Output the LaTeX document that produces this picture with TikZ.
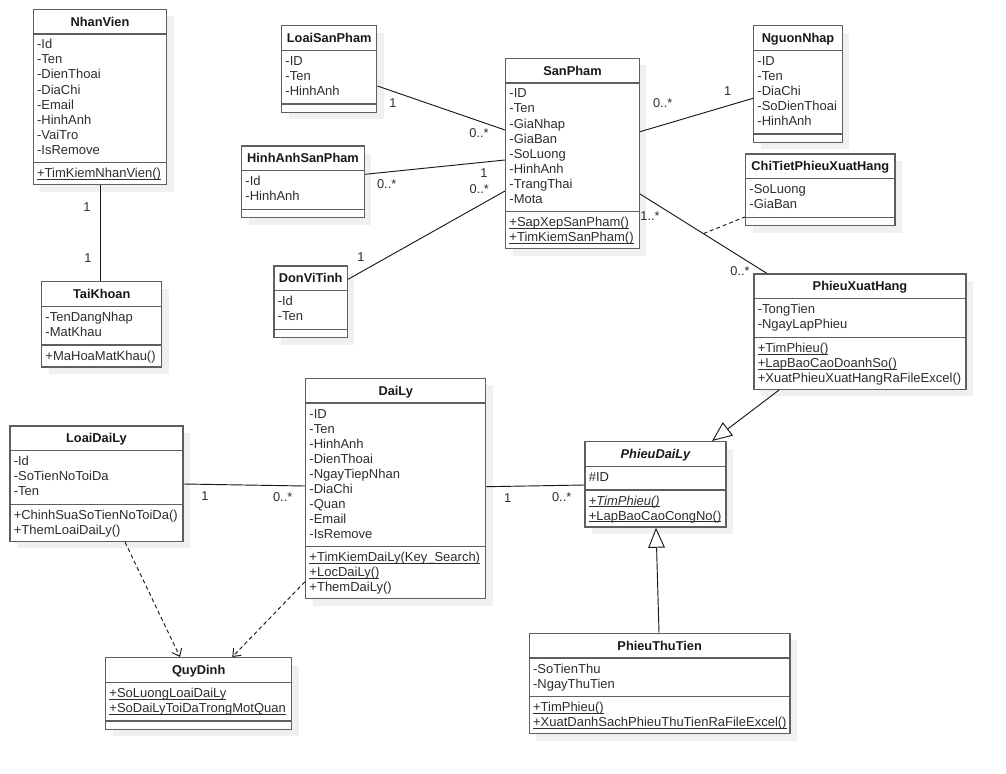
\documentclass[tikz,border=0pt]{standalone}
\usepackage{fontspec}
\setmainfont{Liberation Sans}
\usetikzlibrary{fit,arrows.meta}

\definecolor{framegray}{RGB}{95,95,95}
\definecolor{membertext}{RGB}{45,45,45}

% underline placed just under the baseline
\newcommand\ulmember[1]{\setbox0\hbox{#1}\rlap{\rule[-1.7pt]{\wd0}{0.6pt}}\box0}

\tikzset{
  classframe/.style={draw=framegray, line width=1.1pt, fill=white, inner sep=0pt},
  seprule/.style={draw=framegray, line width=1.1pt},
  boxshadow/.style={fill=black!6},
  classtitle/.style={anchor=base, inner sep=0pt, font=\fontsize{9.6}{11}\selectfont\bfseries, text=black!90},
  member/.style={anchor=base west, inner sep=0pt, font=\fontsize{9.75}{11}\selectfont, text=membertext},
  mult/.style={inner sep=0pt, font=\fontsize{9.6}{11}\selectfont, text=membertext},
  assoc/.style={draw=black!90, line width=0.7pt},
  assocdash/.style={assoc, dash pattern=on 3pt off 2.2pt},
  depend/.style={assoc, dash pattern=on 3pt off 2.2pt, -{Straight Barb[length=5pt,width=8pt]}},
  inherit/.style={assoc, -{Triangle[open, length=15pt, width=12.5pt, fill=white]}},
}

% #1 name, #2 left, #3 top, #4 right, #5 attribute count, #6 method count,
% #7 title, #8 attributes, #9 methods
\newcommand\umlclass[9]{%
  \pgfmathsetmacro\sepA{#3+24.7}%
  \pgfmathsetmacro\sepB{\sepA+15*#5+8.6}%
  \pgfmathsetmacro\boxB{\sepB+(#6==0)*8.4+(#6>0)*(15*#6+7)}%
  \fill[boxshadow] (#2+7,#3+7) rectangle (#4+7,\boxB+7);
  \node[classframe, fit={(#2,#3) (#4,\boxB)}] (#1) {};
  \draw[seprule] (#2,\sepA) -- (#4,\sepA) (#2,\sepB) -- (#4,\sepB);
  \node[classtitle] (#1-title) at ({(#2+#4)/2},{(#3+\sepA)/2+4.5}) {#7};
  \foreach \txt [count=\i] in {#8}
    \node[member] (#1-a\i) at (#2+3.5,\sepA+15*\i) {\txt};
  \ifnum#6>0
    \foreach \txt [count=\i] in {#9}
      \node[member] (#1-m\i) at (#2+3.5,\sepB+15*\i) {\txt};
  \fi
}

\begin{document}
\begin{tikzpicture}[x=0.75pt,y=-0.75pt]
\useasboundingbox (0,0) rectangle (1006,774);
\fill[white] (0,0) rectangle (1006,774);

% classes
\umlclass{NhanVien}{33.3}{9.3}{166.7}{8}{1}{NhanVien}
  {-Id,-Ten,-DienThoai,-DiaChi,-Email,-HinhAnh,-VaiTro,-IsRemove}
  {\ulmember{+TimKiemNhanVien()}}
\umlclass{TaiKhoan}{41.7}{281.7}{161.7}{2}{1}{TaiKhoan}
  {-TenDangNhap,-MatKhau}{+MaHoaMatKhau()}
\umlclass{LoaiSanPham}{281.7}{25.7}{376.7}{3}{0}{LoaiSanPham}
  {-ID,-Ten,-HinhAnh}{}
\umlclass{SanPham}{505.7}{58.3}{639.3}{8}{2}{SanPham}
  {-ID,-Ten,-GiaNhap,-GiaBan,-SoLuong,-HinhAnh,-TrangThai,-Mota}
  {\ulmember{+SapXepSanPham()},\ulmember{+TimKiemSanPham()}}
\umlclass{HinhAnhSanPham}{241.7}{146}{364.3}{2}{0}{HinhAnhSanPham}
  {-Id,-HinhAnh}{}
\umlclass{DonViTinh}{274}{266}{347.3}{2}{0}{DonViTinh}
  {-Id,-Ten}{}
\umlclass{NguonNhap}{753.7}{25.7}{842.3}{5}{0}{NguonNhap}
  {-ID,-Ten,-DiaChi,-SoDienThoai,-HinhAnh}{}
\umlclass{ChiTietPhieuXuatHang}{745.7}{154}{895}{2}{0}{ChiTietPhieuXuatHang}
  {-SoLuong,-GiaBan}{}
\umlclass{PhieuXuatHang}{754}{274}{966}{2}{3}{PhieuXuatHang}
  {-TongTien,-NgayLapPhieu}
  {\ulmember{+TimPhieu()},\ulmember{+LapBaoCaoDoanhSo()},+XuatPhieuXuatHangRaFileExcel()}
\umlclass{DaiLy}{305.7}{378.3}{485.7}{9}{3}{DaiLy}
  {-ID,-Ten,-HinhAnh,-DienThoai,-NgayTiepNhan,-DiaChi,-Quan,-Email,-IsRemove}
  {\ulmember{+TimKiemDaiLy(Key\_Search)},\ulmember{+LocDaiLy()},+ThemDaiLy()}
\umlclass{LoaiDaiLy}{10}{426}{183}{3}{2}{LoaiDaiLy}
  {-Id,-SoTienNoToiDa,-Ten}
  {+ChinhSuaSoTienNoToiDa(),+ThemLoaiDaiLy()}
\umlclass{QuyDinh}{105.7}{657.7}{291.7}{2}{0}{QuyDinh}
  {\ulmember{+SoLuongLoaiDaiLy},\ulmember{+SoDaiLyToiDaTrongMotQuan}}{}
\umlclass{PhieuDaiLy}{585}{441.7}{726}{1}{2}{\itshape PhieuDaiLy}
  {\#ID}
  {\ulmember{\itshape +TimPhieu()},\ulmember{+LapBaoCaoCongNo()}}
\umlclass{PhieuThuTien}{529.3}{633.3}{790}{2}{2}{PhieuThuTien}
  {-SoTienThu,-NgayThuTien}
  {\ulmember{+TimPhieu()},\ulmember{+XuatDanhSachPhieuThuTienRaFileExcel()}}

% associations
\draw[assoc] (NhanVien.south) -- (TaiKhoan.north -| NhanVien.south);
\draw[assoc] (LoaiSanPham.east |- 0,86) -- (SanPham.west |- 0,130);
\draw[assoc] (HinhAnhSanPham.east |- 0,174.3) -- (SanPham.west |- 0,160);
\draw[assoc] (DonViTinh.east |- 0,279.3) -- (SanPham.west |- 0,191);
\draw[assoc] (SanPham.east |- 0,131.7) -- (NguonNhap.west |- 0,98.3);
\draw[assoc] (SanPham.east |- 0,194) -- coordinate[pos=0.5] (acmid) (PhieuXuatHang.north -| 766.7,0);
\draw[assocdash] (acmid) -- (ChiTietPhieuXuatHang.west |- 0,217);
\draw[assoc] (LoaiDaiLy.east |- 0,484) -- (DaiLy.west |- 0,486);
\draw[assoc] (DaiLy.east |- 0,486.7) -- (PhieuDaiLy.west |- 0,485);

% dependencies
\draw[depend] (LoaiDaiLy.south -| 125,0) -- (QuyDinh.north -| 180,0);
\draw[depend] (DaiLy.west |- 0,581.7) -- (QuyDinh.north -| 232.3,0);

% generalizations
\draw[inherit] (PhieuXuatHang.south -| 779,0) -- (PhieuDaiLy.north -| 712,0);
\draw[inherit] (PhieuThuTien.north -| 659,0) -- (PhieuDaiLy.south -| 656,0);

% multiplicities
\node[mult] (mNV) at (87,207) {1};
\node[mult] (mTK) at (88,258) {1};
\node[mult] (mLSP) at (393,103) {1};
\node[mult] (mSP1) at (479,133) {0..*};
\node[mult] (mHA) at (386.7,184) {0..*};
\node[mult] (mSP2) at (484,173.3) {1};
\node[mult] (mDVT) at (361,257.3) {1};
\node[mult] (mSP3) at (479.3,189.3) {0..*};
\node[mult] (mSP4) at (662.7,102.7) {0..*};
\node[mult] (mNN) at (727.7,91) {1};
\node[mult] (mSP5) at (650,216) {1..*};
\node[mult] (mPXH) at (740,270.7) {0..*};
\node[mult] (mLDL) at (205,495.7) {1};
\node[mult] (mDL1) at (282.7,496.7) {0..*};
\node[mult] (mDL2) at (507.7,498.3) {1};
\node[mult] (mPDL) at (561.7,496.7) {0..*};
\end{tikzpicture}
\end{document}
